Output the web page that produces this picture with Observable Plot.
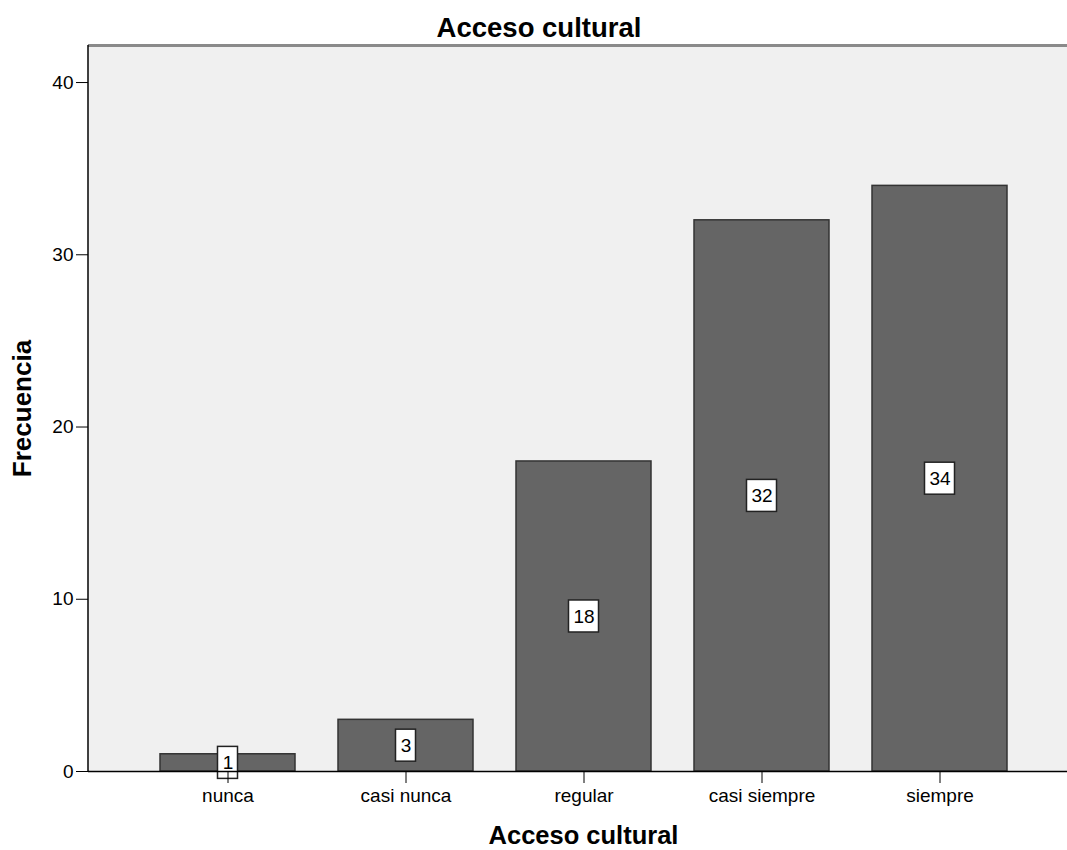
<!DOCTYPE html>
<html>
<head>
<meta charset="utf-8">
<script src="https://cdn.jsdelivr.net/npm/d3@7"></script>
<script src="https://cdn.jsdelivr.net/npm/@observablehq/plot@0.6"></script>
<style>
  html, body { margin: 0; padding: 0; background: #ffffff; }
  #chart svg { display: block; }
</style>
</head>
<body>
<div id="chart"></div>
<script>
const categories = ["nunca", "casi nunca", "regular", "casi siempre", "siempre"];
const counts = [1, 3, 18, 32, 34];
const yTicks = [0, 10, 20, 30, 40];
const chartTitle = "Acceso cultural";
const xTitle = "Acceso cultural";
const yTitle = "Frecuencia";

const data = categories.map((c, i) => ({category: c, count: counts[i], mid: counts[i] / 2}));
const oneDigit = data.filter(d => String(d.count).length === 1);
const twoDigit = data.filter(d => String(d.count).length > 1);

const FONT = "'Liberation Sans', Arial, Helvetica, sans-serif";
const yMax = 42.15;

const leftLine = (index, scales, values, dimensions) => {
  const {marginLeft, marginTop, height, marginBottom} = dimensions;
  const g = d3.create("svg:line")
    .attr("x1", marginLeft).attr("x2", marginLeft)
    .attr("y1", marginTop).attr("y2", height - marginBottom)
    .attr("stroke", "#000").attr("stroke-width", 1.5);
  return g.node();
};

const chart = Plot.plot({
  width: 1067,
  height: 850,
  marginLeft: 88,
  marginRight: 0,
  marginTop: 45,
  marginBottom: 79,
  style: {fontFamily: FONT, color: "#000", background: "#ffffff", overflow: "visible"},
  x: {domain: categories, paddingInner: 0.244, paddingOuter: 0.363, align: 0.54, label: null},
  y: {domain: [0, yMax], label: null},
  marks: [
    Plot.frame({fill: "#f0f0f0", stroke: "none"}),
    Plot.barY(data, {x: "category", y: "count", fill: "#656565", stroke: "#333333", strokeWidth: 1.5}),
    Plot.barY(twoDigit, {x: "category", y1: "mid", y2: "mid", fill: "#ffffff", stroke: "#222222", strokeWidth: 1.5,
      insetLeft: 52.5, insetRight: 52.5, insetTop: -16, insetBottom: -16}),
    Plot.barY(oneDigit, {x: "category", y1: "mid", y2: "mid", fill: "#ffffff", stroke: "#222222", strokeWidth: 1.5,
      insetLeft: 57.5, insetRight: 57.5, insetTop: -16, insetBottom: -16}),
    Plot.text(data, {x: "category", y: "mid", text: d => String(d.count), fontSize: 19, fill: "#000"}),
    Plot.ruleY([0], {stroke: "#000", strokeWidth: 1.5}),
    Plot.ruleY([yMax], {stroke: "#8a8a8a", strokeWidth: 3}),
    leftLine,
    Plot.axisY({ticks: yTicks, tickSize: 12, tickPadding: 3, fontSize: 19, label: null, tickFormat: d => String(d)}),
    Plot.axisX({tickSize: 12, tickPadding: 5, fontSize: 19, label: null}),
    Plot.text([chartTitle], {frameAnchor: "top", text: d => d, textAnchor: "middle", lineAnchor: "middle",
      dx: -39, dy: -17, fontSize: 27.5, fontWeight: "bold", fill: "#000"}),
    Plot.text([xTitle], {frameAnchor: "bottom", text: d => d, textAnchor: "middle", lineAnchor: "middle",
      dx: 5.5, dy: 64, fontSize: 25.5, fontWeight: "bold", fill: "#000"}),
    Plot.text([yTitle], {frameAnchor: "left", text: d => d, textAnchor: "middle", lineAnchor: "middle",
      dx: -66, rotate: -90, fontSize: 26, fontWeight: "bold", fill: "#000"})
  ]
});

document.getElementById("chart").appendChild(chart);
</script>
</body>
</html>
